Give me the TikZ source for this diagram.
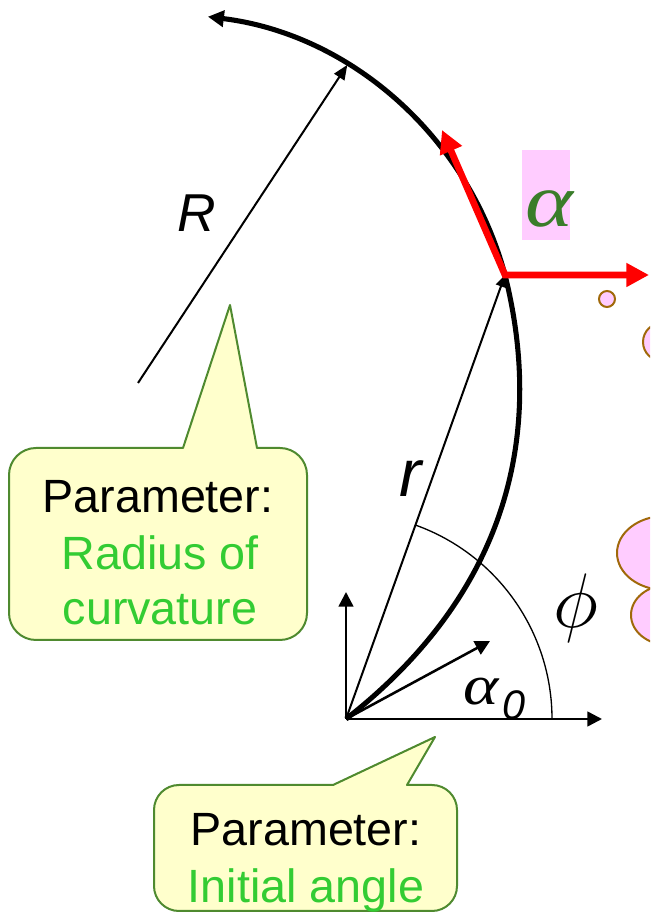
\RequirePackage{fix-cm}
\documentclass[tikz,border=0pt]{standalone}
\usepackage{fontspec}
\setmainfont{Liberation Sans}
\newfontfamily\greekfont{Liberation Serif}
\usetikzlibrary{arrows.meta}
\definecolor{calfill}{HTML}{FFFFCC}
\definecolor{calborder}{RGB}{79,138,47}
\definecolor{lgreen}{RGB}{51,204,51}
\definecolor{dgreen}{RGB}{58,125,42}
\definecolor{pinkfill}{HTML}{FFCCFF}
\definecolor{bubbleline}{RGB}{160,105,10}
\definecolor{redline}{RGB}{255,0,0}
\begin{document}
\begin{tikzpicture}[x=0.75pt,y=0.75pt,
  every node/.style={inner sep=0pt,outer sep=0pt},
  bubble/.style={fill=pinkfill,draw=bubbleline,line width=1.5pt},
  callout/.style={fill=calfill,draw=calborder,line width=1.5pt,line join=round},
  calltext/.style={anchor=base,font=\fontsize{35}{42}\selectfont},
  axisline/.style={line width=1.9pt,-{Triangle[length=11pt,width=11pt]}},
  thinarrow/.style={line width=1.5pt,-{Triangle[length=11pt,width=9pt]}},
  thickcurve/.style={line width=3.8pt},
  redarrow/.style={draw=redline,line width=5pt,line join=miter,
    {Triangle[length=17pt,width=17pt]}-{Triangle[length=17pt,width=17pt]}}]
\useasboundingbox (0,0) rectangle (650,913);
\clip (0,0) rectangle (650,913);

% thought-bubble fragments at the right edge
\draw[bubble] (607,614) circle[radius=8];
\draw[bubble] (662,571) circle[radius=19];
\draw[bubble] (668,298) ellipse[x radius=37,y radius=30];
\draw[bubble] (665,360) ellipse[x radius=48,y radius=37];

% key points
\coordinate (O) at (346,194);
\coordinate (P) at (505,638);
\coordinate (X) at (602,194);
\coordinate (Y) at (346,321);
\coordinate (A0) at (490,272);
\coordinate (Rs) at (138,530);
\coordinate (B) at (347.3,848.1);
\coordinate (RU) at (442,783);
\coordinate (RR) at (649,638);
\coordinate (PhiS) at (552,194);

% callout 1
\draw[callout] (183,465) -- (230,608) -- (257,465) -- (280,465)
  arc[start angle=90,end angle=0,radius=27] -- (307,300)
  arc[start angle=0,end angle=-90,radius=27] -- (36,273)
  arc[start angle=-90,end angle=-180,radius=27] -- (9,438)
  arc[start angle=180,end angle=90,radius=27] -- cycle;
\node[calltext] (c1a) at (158,400) {Parameter:};
\node[calltext,text=lgreen] (c1b) at (160,343) {Radius of};
\node[calltext,text=lgreen] (c1c) at (160,288) {curvature};

% callout 2
\draw[callout] (333,128) -- (435,176) -- (407,128) -- (432,128)
  arc[start angle=90,end angle=0,radius=25] -- (457,27)
  arc[start angle=0,end angle=-90,radius=25] -- (179,2)
  arc[start angle=-90,end angle=-180,radius=25] -- (154,103)
  arc[start angle=180,end angle=90,radius=25] -- cycle;
\node[calltext] (c2a) at (306,67) {Parameter:};
\node[calltext,text=lgreen] (c2b) at (306,11) {Initial angle};

% axes and vectors
\draw[axisline] (O) -- (X);
\draw[axisline] (O) -- (Y);
\draw[axisline] (O) -- (A0);
\draw[line width=1pt] (PhiS) arc[start angle=0,end angle=70.2,radius=206];

% trajectory
\draw[thickcurve] (O) to[out=38,in=-76] (P);
\draw[thickcurve,-{Triangle[length=12pt,width=12pt]}] (P) arc[start angle=15,end angle=83,radius=352];
\draw[line width=1.5pt,-{Triangle[length=9pt,width=8pt]}] (O) -- (P);
\draw[thinarrow] (Rs) -- (B);

% red frame at the end point
\draw[redarrow] (RU) -- (P) -- (RR);

% labels
\node[anchor=base,font=\fontsize{40}{40}\selectfont\itshape] (Rlab) at (197,681) {R};
\node[anchor=base,font=\fontsize{50}{50}\selectfont\itshape] (rlab) at (411,416) {r};
\node (philab) at (576,305) {\fontsize{58}{58}\selectfont$\phi$};
\fill[pinkfill] (522,673) rectangle (570,763);
\node[anchor=base,text=dgreen,font=\fontsize{57}{57}\selectfont\greekfont\itshape] (alab) at (549,686) {\scalebox{1.2}[1]{α}};
\node[anchor=base,font=\fontsize{42}{42}\selectfont\greekfont\itshape] (a0lab) at (481,208) {\scalebox{1.2}[1]{α}};
\node[anchor=base west,font=\fontsize{31}{31}\selectfont\itshape] (a0sub) at (502,193) {0};
\end{tikzpicture}
\end{document}
